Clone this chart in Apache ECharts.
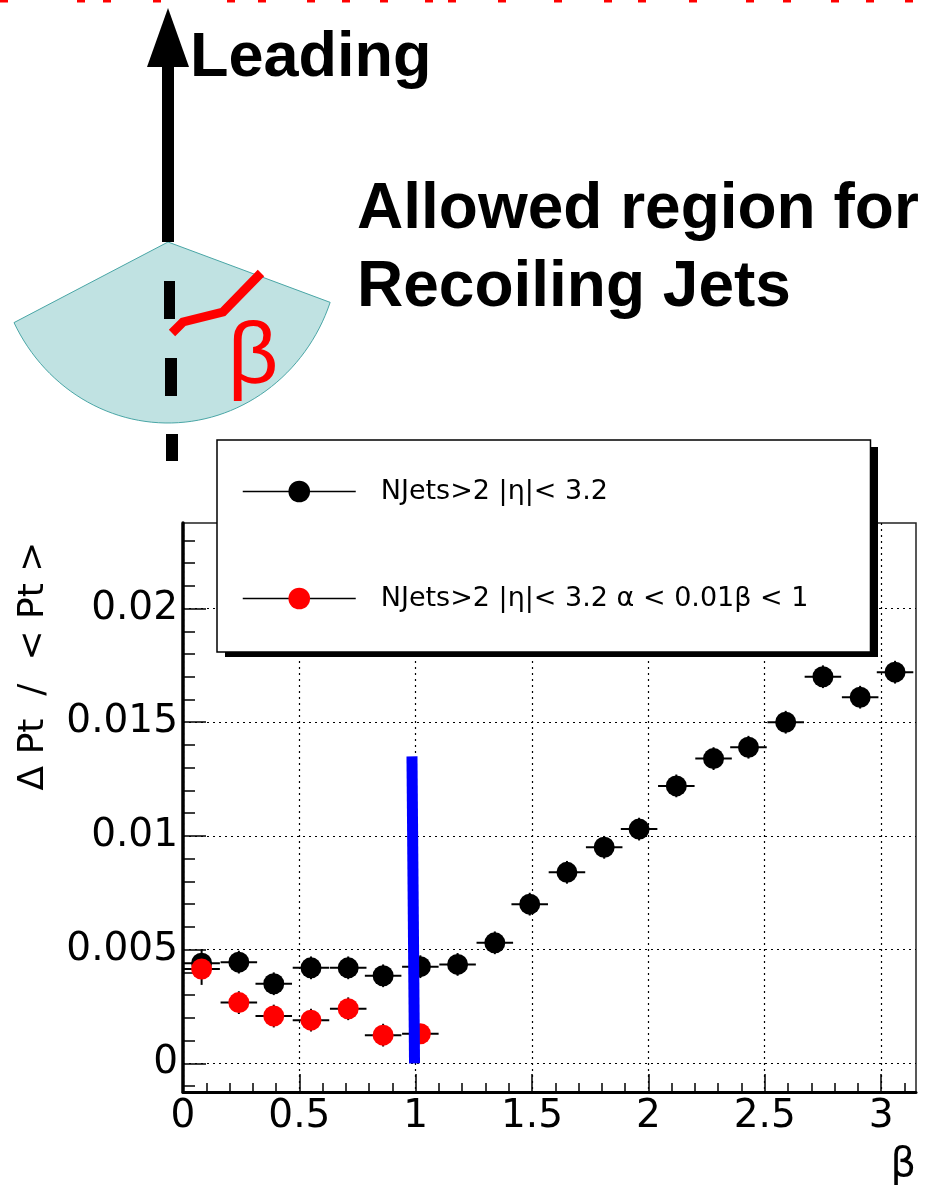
<!DOCTYPE html>
<html><head><meta charset="utf-8">
<script src="https://cdn.jsdelivr.net/npm/echarts@6/dist/echarts.min.js"></script>
<style>html,body{margin:0;padding:0;background:#fff}#c{width:932px;height:1200px}</style>
</head><body><div id="c"></div>
<script>
// ---------- data ----------
const binCenters = [0.08,0.24,0.39,0.55,0.71,0.86,1.02,1.18,1.34,1.49,1.65,1.81,1.96,2.12,2.28,2.43,2.59,2.75,2.91,3.06];
const allJets    = [0.0044,0.00445,0.0035,0.0042,0.0042,0.00385,0.00425,0.00435,0.0053,0.0070,0.0084,0.0095,0.0103,0.0122,0.0134,0.0139,0.0150,0.0170,0.0161,0.0172];
const allJetsErr = [0.0006,0.0005,0.0005,0.0005,0.0005,0.0005,0.0005,0.0005,0.0005,0.0005,0.0005,0.0005,0.0005,0.0005,0.0005,0.0005,0.0005,0.0005,0.0005,0.0005];
const cutJets    = [0.00415,0.00267,0.00208,0.0019,0.0024,0.00124,0.0013];
const cutJetsErr = [0.0007,0.0005,0.0005,0.0005,0.0005,0.0005,0.0004];
const binHalfWidth = 0.0785;
const cutLine = [[0.995,0],[0.984,0.0135]];
const seriesNames = ['NJets>2 |η|< 3.2','NJets>2 |η|< 3.2 α < 0.01β < 1'];
const xMajorTicks = [0,0.5,1,1.5,2,2.5,3];
const xMinorTicks = [0.1,0.2,0.3,0.4,0.6,0.7,0.8,0.9,1.1,1.2,1.3,1.4,1.6,1.7,1.8,1.9,2.1,2.2,2.3,2.4,2.6,2.7,2.8,2.9,3.1];
const yMajorTicks = [0,0.005,0.01,0.015,0.02];
const yMinorTicks = [-0.001,0.001,0.002,0.003,0.004,0.006,0.007,0.008,0.009,0.011,0.012,0.013,0.014,0.016,0.017,0.018,0.019,0.021,0.022,0.023];
const xRange = [0,3.15];
const yRange = [-0.00126,0.02376];
const yTitle = 'Δ Pt  /  < Pt >';
const xTitle = 'β';
const diagramTexts = ['Leading','Allowed region for','Recoiling Jets','β'];

// ---------- decorative diagram geometry ----------
const topDashX = [0,77,103,153,227,258,307,342,380,425,448,498,554,604,638,689,746,783,831,866,905];
const fanPts = [[168,242]];
for (let k=0;k<=60;k++){const t=0.34+(2.68-0.34)*k/60;fanPts.push([168+172*Math.cos(t),242+181*Math.sin(t)]);}

const graphics = [];
topDashX.forEach(x=>graphics.push({type:'rect',shape:{x:x,y:0,width:8,height:2.5},style:{fill:'#ff0000'},silent:true}));
graphics.push(
 {type:'polygon',shape:{points:fanPts},style:{fill:'#c0e2e2',stroke:'#4aa6a6',lineWidth:1},silent:true},
 {type:'rect',shape:{x:162,y:62,width:12,height:180},style:{fill:'#000'},silent:true},
 {type:'polygon',shape:{points:[[168,8],[147,67],[189,67]]},style:{fill:'#000'},silent:true},
 {type:'rect',shape:{x:164,y:281,width:11,height:38},style:{fill:'#000'},silent:true},
 {type:'rect',shape:{x:165,y:358,width:12,height:38},style:{fill:'#000'},silent:true},
 {type:'rect',shape:{x:166,y:434,width:12,height:27},style:{fill:'#000'},silent:true},
 {type:'polyline',shape:{points:[[172,333],[183,322],[223,312],[261,273]]},style:{stroke:'#ff0000',lineWidth:9,fill:null},silent:true},
 {type:'text',x:190,y:58.5,style:{text:diagramTexts[0],font:'bold 63px "Liberation Sans"',fill:'#000',align:'left',verticalAlign:'middle'},silent:true},
 {type:'text',x:357,y:210.5,style:{text:diagramTexts[1],font:'bold 64px "Liberation Sans"',fill:'#000',align:'left',verticalAlign:'middle'},silent:true},
 {type:'text',x:357,y:288.5,style:{text:diagramTexts[2],font:'bold 64px "Liberation Sans"',fill:'#000',align:'left',verticalAlign:'middle'},silent:true},
 {type:'text',x:253,y:358.5,style:{text:diagramTexts[3],font:'88px "Liberation Sans"',fill:'#ff0000',align:'center',verticalAlign:'middle'},silent:true},
 {type:'text',x:34,y:666,rotation:Math.PI/2,style:{text:yTitle,font:'36px "DejaVu Sans"',fill:'#000',align:'center',verticalAlign:'middle'},silent:true},
 // legend drop shadow (behind the legend box)
 {type:'rect',z:3,shape:{x:225,y:447,width:653,height:210},style:{fill:'#000'},silent:true}
);

const errRender = function(params, api){
  const x=api.value(0), y=api.value(1), ex=api.value(2), ey=api.value(3);
  const a=api.coord([x-ex,y]), b=api.coord([x+ex,y]), c=api.coord([x,y-ey]), d=api.coord([x,y+ey]);
  return {type:'group',children:[
    {type:'line',shape:{x1:a[0],y1:a[1],x2:b[0],y2:b[1]},style:{stroke:'#000',lineWidth:2}},
    {type:'line',shape:{x1:c[0],y1:c[1],x2:d[0],y2:d[1]},style:{stroke:'#000',lineWidth:2}}
  ]};
};

const font = 'DejaVu Sans';
const chart = echarts.init(document.getElementById('c'), null, {renderer:'canvas'});
chart.setOption({
  animation:false,
  backgroundColor:'#fff',
  grid:{left:183,right:16,top:523,bottom:108,show:true,borderColor:'#222',borderWidth:1.5,backgroundColor:'transparent',outerBoundsMode:'none',containLabel:false},
  legend:{orient:'vertical',left:217,top:440,z:5,data:seriesNames,itemWidth:113,itemHeight:27,itemGap:80,
    padding:[38,62,40,25],backgroundColor:'#fff',borderColor:'#000',borderWidth:1.5,selectedMode:false,
    lineStyle:{color:'#000',width:1.5,opacity:1},
    textStyle:{fontFamily:font,fontSize:27,color:'#000',lineHeight:27,padding:[0,0,0,20]}},
  xAxis:[
    {type:'value',min:xRange[0],max:xRange[1],position:'bottom',
     axisLine:{show:true,onZero:false,lineStyle:{color:'#000',width:3}},
     axisTick:{show:true,inside:true,length:18,customValues:xMajorTicks,lineStyle:{color:'#000',width:1.5}},
     axisLabel:{show:true,customValues:xMajorTicks,margin:5,fontFamily:font,fontSize:39,color:'#000',formatter:v=>String(v)},
     splitLine:{show:true,lineStyle:{type:[2,4],color:'#000',width:1.2}},
     name:xTitle,nameLocation:'end',nameGap:0,nameMoveOverlap:false,
     nameTextStyle:{fontFamily:font,fontSize:40,color:'#000',align:'right',verticalAlign:'top',padding:[54,0,0,0]}},
    {type:'value',min:xRange[0],max:xRange[1],position:'bottom',
     axisLine:{show:false,onZero:false},axisLabel:{show:false},splitLine:{show:false},
     axisTick:{show:true,inside:true,length:9,customValues:xMinorTicks,lineStyle:{color:'#000',width:1.5}}}
  ],
  yAxis:[
    {type:'value',min:yRange[0],max:yRange[1],position:'left',
     axisLine:{show:true,onZero:false,lineStyle:{color:'#000',width:3.5}},
     axisTick:{show:true,inside:true,length:23,customValues:yMajorTicks,lineStyle:{color:'#000',width:1.5}},
     axisLabel:{show:true,customValues:yMajorTicks,margin:5,fontFamily:font,fontSize:39,color:'#000',formatter:v=>String(v)},
     splitLine:{show:true,lineStyle:{type:[2,4],color:'#000',width:1.2}}},
    {type:'value',min:yRange[0],max:yRange[1],position:'left',
     axisLine:{show:false,onZero:false},axisLabel:{show:false},splitLine:{show:false},
     axisTick:{show:true,inside:true,length:12,customValues:yMinorTicks,lineStyle:{color:'#000',width:1.5}}}
  ],
  series:[
    {name:'errAll',type:'custom',renderItem:errRender,xAxisIndex:0,yAxisIndex:0,z:3,silent:true,
     encode:{x:0,y:1},data:binCenters.map((x,i)=>[x,allJets[i],binHalfWidth,allJetsErr[i]])},
    {name:seriesNames[0],type:'line',xAxisIndex:0,yAxisIndex:0,z:4,symbol:'circle',symbolSize:21,showSymbol:true,showAllSymbol:true,
     lineStyle:{opacity:0},itemStyle:{color:'#000'},emphasis:{disabled:true},
     data:binCenters.map((x,i)=>[x,allJets[i]])},
    {name:'errCut',type:'custom',renderItem:errRender,xAxisIndex:0,yAxisIndex:0,z:5,silent:true,
     encode:{x:0,y:1},data:cutJets.map((y,i)=>[binCenters[i],y,binHalfWidth,cutJetsErr[i]])},
    {name:seriesNames[1],type:'line',xAxisIndex:0,yAxisIndex:0,z:6,symbol:'circle',symbolSize:21,showSymbol:true,showAllSymbol:true,
     lineStyle:{opacity:0},itemStyle:{color:'#ff0000'},emphasis:{disabled:true},
     data:cutJets.map((y,i)=>[binCenters[i],y])},
    {name:'cut',type:'line',xAxisIndex:0,yAxisIndex:0,z:8,symbol:'none',silent:true,
     lineStyle:{color:'#0000ff',width:11,cap:'butt'},data:cutLine}
  ],
  graphic:{elements:graphics}
});
</script></body></html>
